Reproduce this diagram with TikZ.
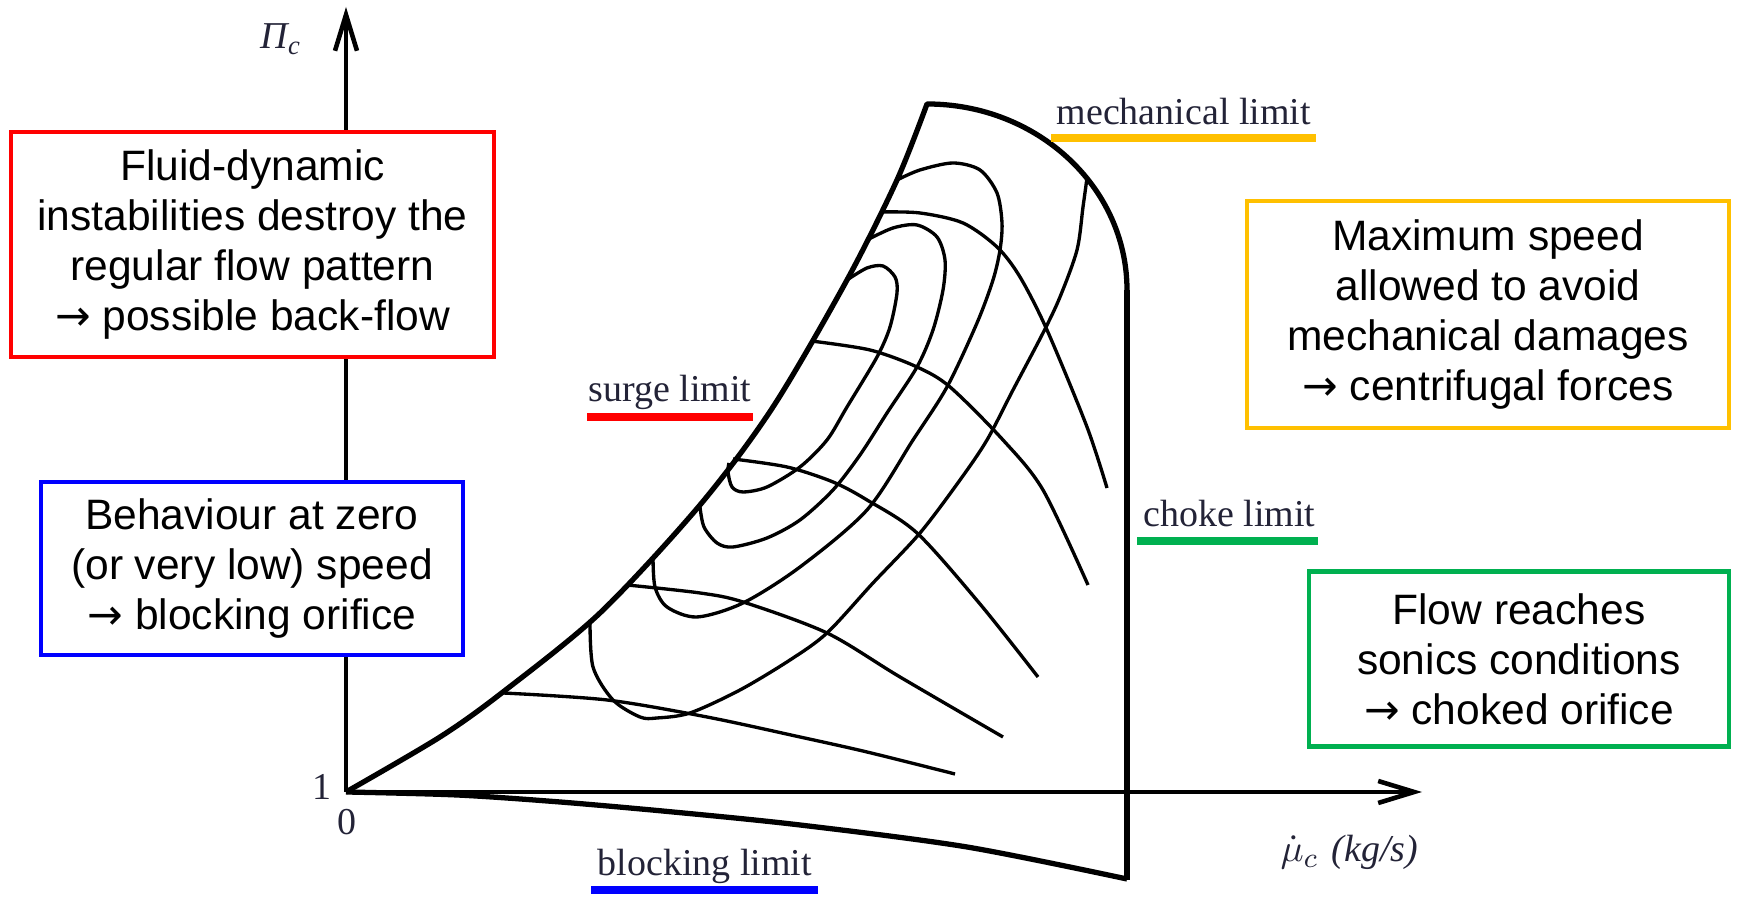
\documentclass[tikz,border=0pt]{standalone}
\usepackage{fontspec}
\setmainfont{Liberation Sans}
\newfontfamily\limitfont{Liberation Serif}
\newfontfamily\arrowfont{DejaVu Sans}
\newcommand{\then}{{\arrowfont →}}
\usetikzlibrary{arrows.meta}
\definecolor{limred}{RGB}{255,0,0}
\definecolor{limblue}{RGB}{0,0,255}
\definecolor{limorange}{RGB}{255,192,0}
\definecolor{limgreen}{RGB}{0,176,80}
\definecolor{labeltext}{RGB}{35,35,55}

\begin{document}
\begin{tikzpicture}[
        % Cajas con la explicación de cada límite
        box/.style={draw, fill=white, line width=1.3pt, align=center, inner sep=0pt,
            font=\fontsize{12.1}{14.2}\selectfont},
        % Etiquetas de los límites (texto con serifa)
        limit/.style={anchor=base west, inner sep=0pt, text=labeltext,
            font=\limitfont\fontsize{10.8}{13}\selectfont},
        underline/.style={line width=2.2pt},
        % Contorno del mapa, curvas interiores y ejes
        border/.style={line width=1.5pt, line join=round},
        curve/.style={line width=0.95pt},
        axis/.style={line width=1.3pt, -{Straight Barb[length=3.6mm, width=2.2mm]}}
    ]
        \useasboundingbox (-3.46,-1.07) rectangle (13.92,7.92);

        % Ejes
        \coordinate (o) at (0,0);
        \coordinate (ytip) at (0,7.85);
        \coordinate (xtip) at (10.76,0);
        \draw[axis] (o) -- (ytip);
        \draw[axis] (o) -- (xtip);
        \node[limit, anchor=base west] (pic) at (-0.86,7.43) {\itshape Π\textsubscript{c}};
        \node[limit, anchor=base] (one) at (-0.24,-0.08) {1};
        \node[limit, anchor=base] (zero) at (0.01,-0.43) {0};
        \node[limit] (muc) at (9.34,-0.70) {$\dot{\mu}_c$\hspace{0.35em}{\limitfont\itshape (kg/s)}};

        % Contorno: surge, límite mecánico, choke y blocking
        \draw[border] plot[smooth] coordinates {(0,0) (0.94,0.55) (1.57,1.00) (2.54,1.79) (3.54,2.87)
            (4.27,3.85) (5.01,5.12) (5.51,6.12) (5.81,6.88)}
            arc[start angle=90, end angle=0, x radius=2.00, y radius=1.86];
        \draw[border, line width=1.8pt] (7.81,5.02) -- (7.81,-0.88);
        \draw[border] plot[smooth] coordinates {(0,0) (1.11,-0.03) (2.14,-0.10) (3.27,-0.20)
            (4.54,-0.33) (6.21,-0.55) (7.81,-0.87)};

        % Líneas de velocidad constante
        \draw[curve] plot[smooth] coordinates {(1.57,0.99) (2.61,0.92) (3.61,0.75) (4.54,0.55) (5.21,0.40) (6.09,0.18)};
        \draw[curve] plot[smooth] coordinates {(2.81,2.07) (3.54,1.99) (3.97,1.90) (4.81,1.59) (5.54,1.15) (6.57,0.55)};
        \draw[curve] plot[smooth] coordinates {(3.87,3.33) (4.41,3.25) (4.87,3.10) (5.21,2.92) (5.71,2.59) (6.34,1.88) (6.92,1.15)};
        \draw[curve] plot[smooth] coordinates {(4.65,4.51) (5.24,4.42) (5.71,4.25) (6.04,4.05) (6.57,3.52) (6.97,3.02) (7.42,2.07)};
        \draw[curve] plot[smooth] coordinates {(5.35,5.80) (5.74,5.79) (6.17,5.69) (6.51,5.45) (6.74,5.15) (7.01,4.62) (7.41,3.65) (7.61,3.04)};

        % Curvas de rendimiento (islas)
        \draw[curve] plot[smooth] coordinates {(5.01,5.12) (5.21,5.24) (5.37,5.26) (5.49,5.15) (5.51,4.99) (5.44,4.65)
            (5.31,4.35) (5.01,3.85) (4.81,3.52) (4.54,3.25) (4.21,3.05) (3.97,3.00) (3.86,3.05) (3.82,3.20) (3.83,3.29)};
        \draw[curve] plot[smooth] coordinates {(5.21,5.52) (5.47,5.64) (5.71,5.67) (5.91,5.55) (5.99,5.32) (5.97,5.02)
            (5.87,4.62) (5.71,4.25) (5.41,3.79) (5.14,3.37) (4.87,3.02) (4.54,2.72) (4.21,2.54) (3.87,2.45)
            (3.71,2.49) (3.58,2.65) (3.54,2.85)};
        \draw[curve] plot[smooth] coordinates {(5.51,6.12) (5.74,6.22) (6.07,6.29) (6.34,6.22) (6.51,5.99) (6.56,5.69)
            (6.54,5.42) (6.47,5.12) (6.31,4.69) (6.01,4.05) (5.67,3.52) (5.21,2.82) (4.54,2.25) (3.97,1.89)
            (3.51,1.75) (3.21,1.85) (3.09,2.05) (3.07,2.35)};
        \draw[curve] plot[smooth] coordinates {(7.41,6.14) (7.37,5.85) (7.31,5.42) (7.14,4.95) (6.97,4.59) (6.67,4.02)
            (6.41,3.52) (6.14,3.12) (5.74,2.59) (5.27,2.09) (4.81,1.59) (4.44,1.32) (3.94,1.02) (3.44,0.79)
            (3.11,0.74) (2.94,0.75) (2.67,0.92) (2.47,1.25) (2.44,1.72)};

        % Etiquetas de los límites, subrayadas con el color de su caja
        \node[limit] (surge) at (2.42,3.90) {surge limit};
        \draw[underline, limred] (2.41,3.75) -- (4.07,3.75);
        \node[limit] (mech) at (7.10,6.67) {mechanical limit};
        \draw[underline, limorange] (7.05,6.54) -- (9.70,6.54);
        \node[limit] (choke) at (7.97,2.65) {choke limit};
        \draw[underline, limgreen] (7.91,2.51) -- (9.72,2.51);
        \node[limit] (block) at (2.51,-0.84) {blocking limit};
        \draw[underline, limblue] (2.45,-0.98) -- (4.72,-0.98);

        % Cajas explicativas
        \node[box, draw=limred, minimum width=4.83cm, minimum height=2.25cm] (surgebox) at (-0.935,5.475)
            {Fluid-dynamic\\instabilities destroy the\\regular flow pattern\\\then{} possible back-flow};
        \node[box, draw=limblue, minimum width=4.22cm, minimum height=1.73cm] (blockbox) at (-0.94,2.235)
            {Behaviour at zero\\(or very low) speed\\\then{} blocking orifice};
        \node[box, draw=limorange, minimum width=4.82cm, minimum height=2.27cm] (mechbox) at (11.42,4.775)
            {Maximum speed\\allowed to avoid\\mechanical damages\\\then{} centrifugal forces};
        \node[box, draw=limgreen, minimum width=4.20cm, minimum height=1.75cm] (chokebox) at (11.73,1.33)
            {Flow reaches\\sonics conditions\\\then{} choked orifice};

    \end{tikzpicture}
\end{document}
